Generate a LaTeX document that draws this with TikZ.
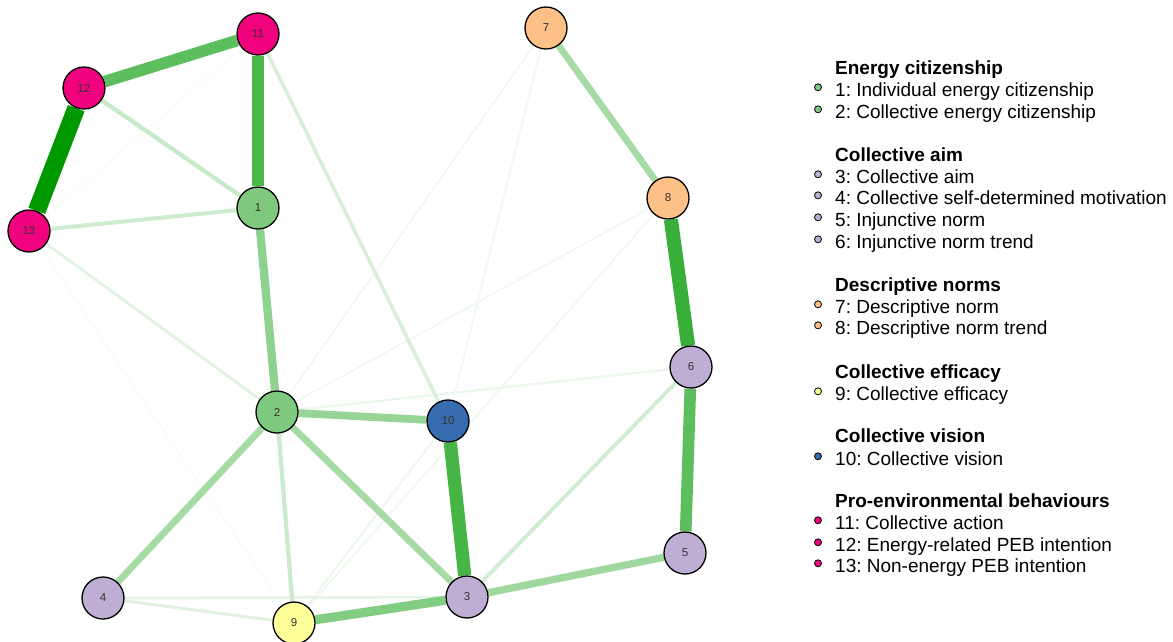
\documentclass[tikz,border=0pt]{standalone}
\usepackage{fontspec}
\setmainfont{Liberation Sans}
\usetikzlibrary{backgrounds}
\frenchspacing

\definecolor{grpgreen}{HTML}{7FC97F}
\definecolor{grppurple}{HTML}{BEAED4}
\definecolor{grporange}{HTML}{FDC086}
\definecolor{grpyellow}{HTML}{FFFF99}
\definecolor{grpblue}{HTML}{386CB0}
\definecolor{grppink}{HTML}{F0027F}
\definecolor{posgreen}{HTML}{009900}

\begin{document}
\begin{tikzpicture}[x=1pt,y=-1pt,
  var/.style={circle, draw=black, line width=1.3pt, minimum size=42pt, inner sep=0pt, font=\fontsize{11.5}{13}\selectfont, text=black!80},
  link/.style={draw=posgreen!#1!white, line width={0.8pt+0.17pt*#1}},
  dot/.style={circle, draw=black, line width=0.8pt, minimum size=7pt, inner sep=0pt},
  entry/.style={anchor=base west, inner sep=0pt, font=\fontsize{19}{22}\selectfont},
  group/.style={entry, font=\fontsize{19}{22}\selectfont\bfseries}]

\useasboundingbox (0,0) rectangle (1173,641);

% variables
\node[var, fill=grpgreen] (n1) at (258,208) {1};
\node[var, fill=grpgreen] (n2) at (277,412) {2};
\node[var, fill=grppurple] (n3) at (467,597) {3};
\node[var, fill=grppurple] (n4) at (103,598) {4};
\node[var, fill=grppurple] (n5) at (685,553) {5};
\node[var, fill=grppurple] (n6) at (691,367) {6};
\node[var, fill=grporange] (n7) at (546,28) {7};
\node[var, fill=grporange] (n8) at (668,198) {8};
\node[var, fill=grpyellow] (n9) at (294,623) {9};
\node[var, fill=grpblue] (n10) at (448,421) {10};
\node[var, fill=grppink] (n11) at (258,34) {11};
\node[var, fill=grppink] (n12) at (84,88) {12};
\node[var, fill=grppink] (n13) at (29,231) {13};

% edges, weakest first
\begin{scope}[on background layer]
\fill[white] (0,0) rectangle (1173,641);
\draw[link=3] (n11) -- (n13);
\draw[link=3] (n13) -- (n9);
\draw[link=6] (n7) -- (n2);
\draw[link=6] (n7) -- (n10);
\draw[link=6] (n8) -- (n2);
\draw[link=6] (n8) -- (n9);
\draw[link=7] (n10) -- (n9);
\draw[link=8] (n6) -- (n2);
\draw[link=10] (n4) -- (n3);
\draw[link=13] (n4) -- (n9);
\draw[link=12] (n13) -- (n2);
\draw[link=18] (n6) -- (n3);
\draw[link=16] (n11) -- (n10);
\draw[link=20] (n2) -- (n9);
\draw[link=21] (n12) -- (n1);
\draw[link=19] (n13) -- (n1);
\draw[link=35] (n7) -- (n8);
\draw[link=35] (n2) -- (n3);
\draw[link=35] (n2) -- (n4);
\draw[link=38] (n3) -- (n5);
\draw[link=41] (n2) -- (n10);
\draw[link=44] (n1) -- (n2);
\draw[link=49] (n9) -- (n3);
\draw[link=64] (n11) -- (n12);
\draw[link=64] (n6) -- (n5);
\draw[link=71] (n11) -- (n1);
\draw[link=73] (n10) -- (n3);
\draw[link=78] (n8) -- (n6);
\draw[link=100] (n12) -- (n13);
\end{scope}

% legend
\node[group] (g1) at (835,74) {Energy citizenship};
\node[group] (g2) at (835,161) {Collective aim};
\node[group] (g3) at (835,291) {Descriptive norms};
\node[group] (g4) at (835,378) {Collective efficacy};
\node[group] (g5) at (835,442) {Collective vision};
\node[group] (g6) at (835,507) {Pro-environmental behaviours};

\foreach \k/\y/\c/\txt in {
  1/96/grpgreen/{1: Individual energy citizenship},
  2/118/grpgreen/{2: Collective energy citizenship},
  3/183/grppurple/{3: Collective aim},
  4/204/grppurple/{4: Collective self-determined motivation},
  5/226/grppurple/{5: Injunctive norm},
  6/248/grppurple/{6: Injunctive norm trend},
  7/313/grporange/{7: Descriptive norm},
  8/334/grporange/{8: Descriptive norm trend},
  9/400/grpyellow/{9: Collective efficacy},
  10/465/grpblue/{10: Collective vision},
  11/529/grppink/{11: Collective action},
  12/551/grppink/{12: Energy-related PEB intention},
  13/572/grppink/{13: Non-energy PEB intention}} {
  \node[dot, fill=\c] (b\k) at (818,\y-8.7) {};
  \node[entry] (t\k) at (835,\y) {\txt};
}

\end{tikzpicture}
\end{document}
